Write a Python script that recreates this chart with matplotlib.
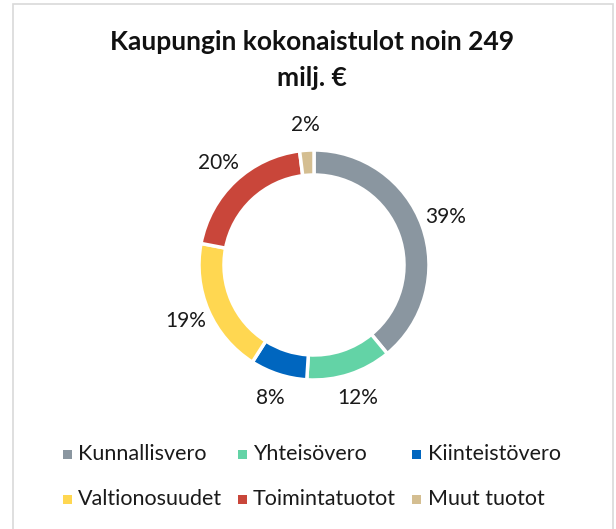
import matplotlib
matplotlib.use("Agg")
import matplotlib.pyplot as plt
from matplotlib.patches import Rectangle

plt.rcParams['font.family'] = ['Lato', 'DejaVu Sans']

title = "Kaupungin kokonaistulot noin 249\nmilj. €"
categories = ["Kunnallisvero", "Yhteisövero", "Kiinteistövero",
              "Valtionosuudet", "Toimintatuotot", "Muut tuotot"]
values = [39, 12, 8, 19, 20, 2]
colors = ["#8A96A0", "#63D3A6", "#0066BF", "#FFD751", "#C9463A", "#D4BE91"]

W, H = 616, 529
fig = plt.figure(figsize=(W / 100, H / 100), dpi=100)

# frame
fig.patches.append(Rectangle((13 / W, -0.01), (613 - 13) / W, 1 - 4 / H + 0.01,
                             transform=fig.transFigure, fill=False,
                             edgecolor="#D9D9D9", linewidth=1.2))

cx, cy, r = 314, 265, 115
ax = fig.add_axes([(cx - r) / W, (H - cy - r) / H, 2 * r / W, 2 * r / H])
wedges, texts = ax.pie(values, colors=colors, startangle=90, counterclock=False,
                       labels=[f"{v}%" for v in values], labeldistance=1.22,
                       wedgeprops=dict(width=25 / r, edgecolor="white", linewidth=2.5),
                       textprops=dict(fontsize=15, color="#1A1A1A"))
for t in texts:
    t.set_horizontalalignment("center")
    t.set_verticalalignment("center")
ax.set_xlim(-1, 1)
ax.set_ylim(-1, 1)
ax.set_aspect("equal")

fig.text(312 / W, 1 - 60 / H, title, ha="center", va="center",
         fontsize=19, fontweight="bold", linespacing=1.65, color="#111111")

col_x = [67, 242, 417]
row_y = [454, 499]
for i, (cat, col) in enumerate(zip(categories, colors)):
    x = col_x[i % 3]
    y = row_y[i // 3]
    fig.patches.append(Rectangle(((x - 4.5) / W, (H - y - 4.5) / H), 9 / W, 9 / H,
                                 transform=fig.transFigure, facecolor=col,
                                 edgecolor="none"))
    fig.text((x + 11) / W, 1 - y / H, cat, ha="left", va="center",
             fontsize=15.5, color="#1A1A1A")

fig.savefig("out.png", dpi=100)
